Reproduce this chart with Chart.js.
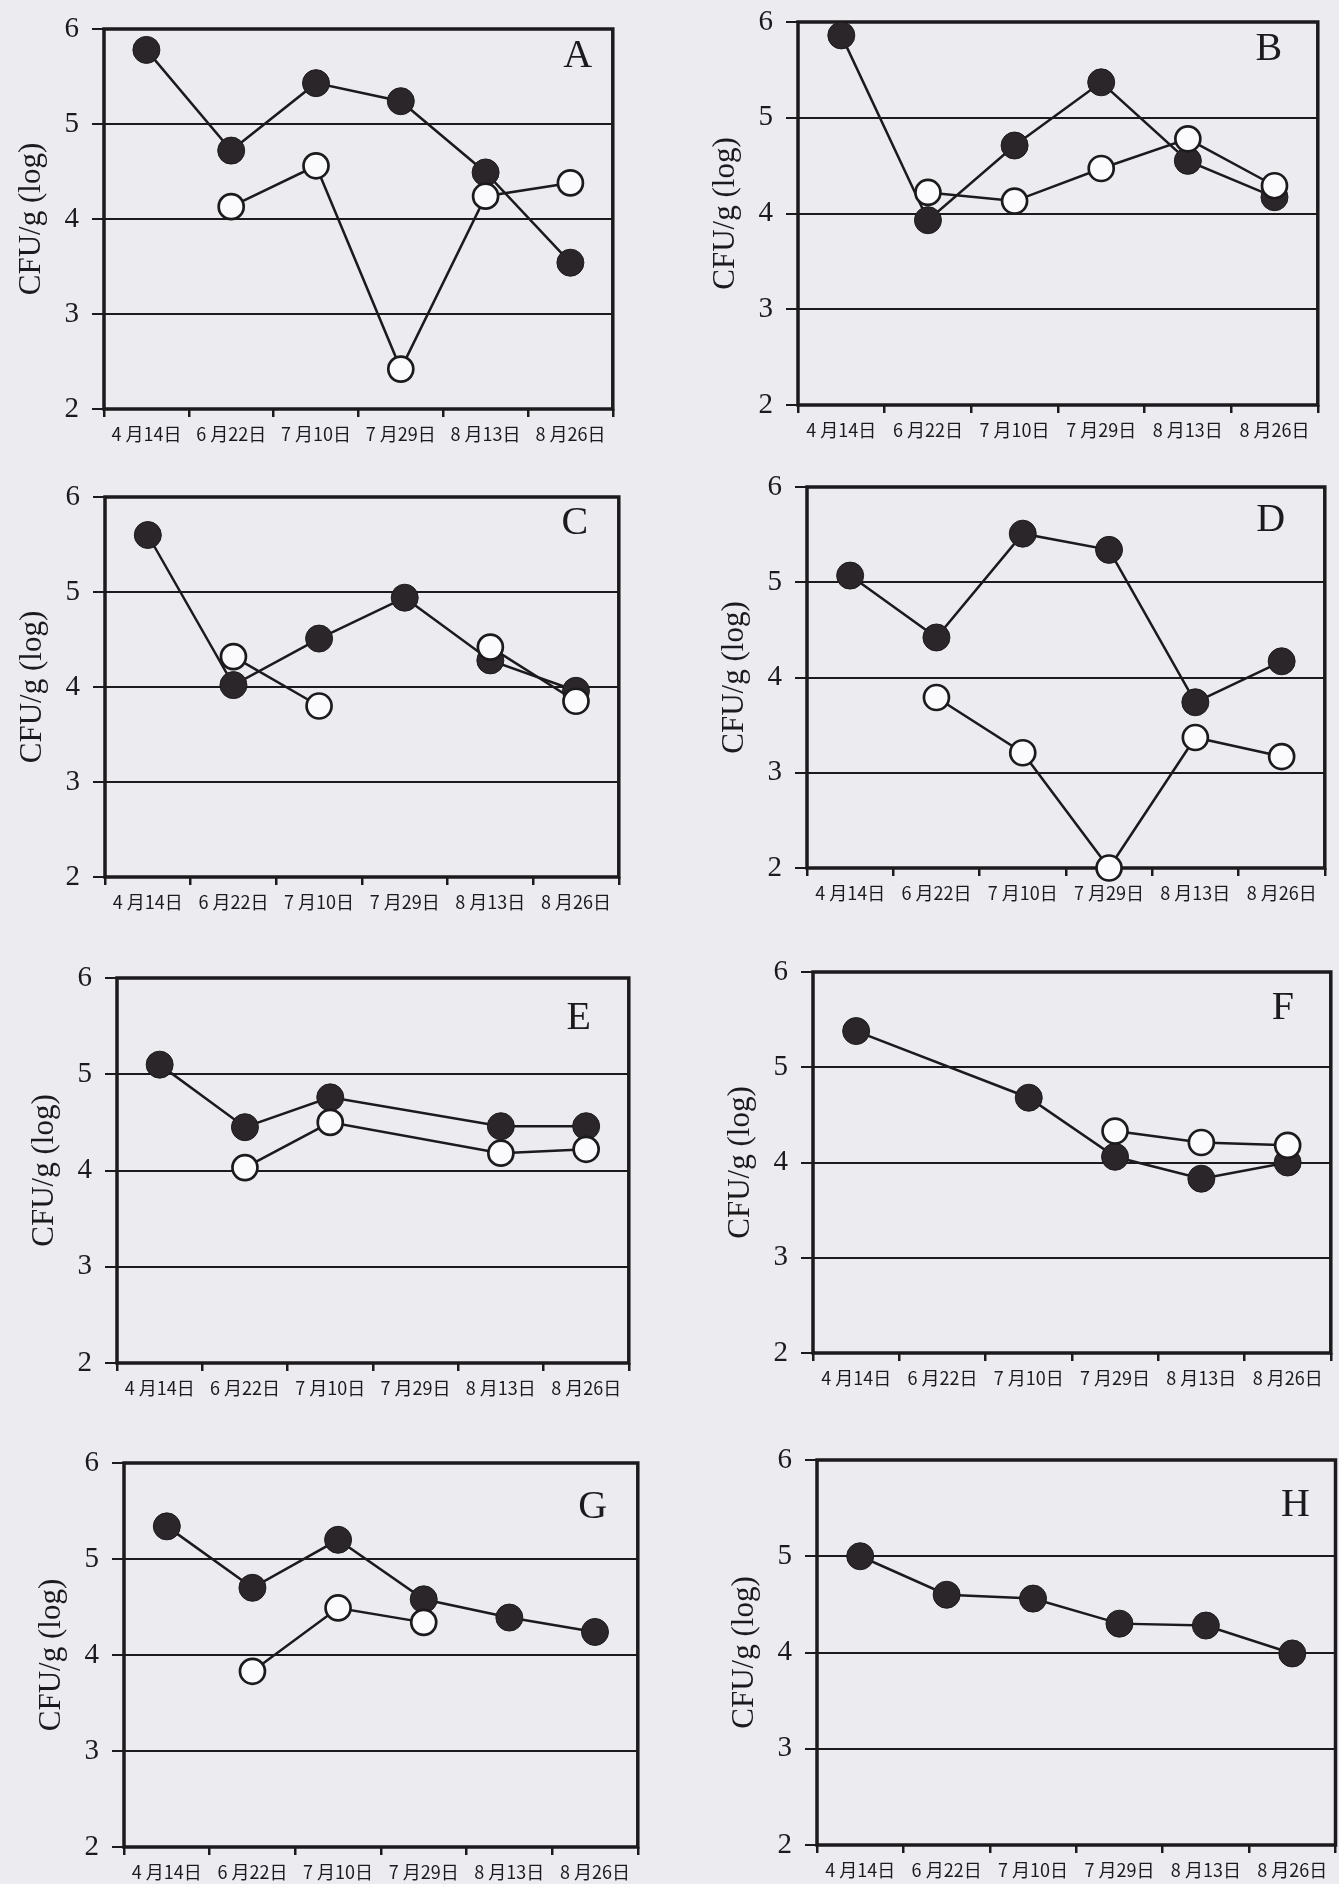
<!DOCTYPE html>
<html lang="ja">
<head>
<meta charset="utf-8">
<title>CFU/g (log)</title>
<script src="https://cdn.jsdelivr.net/npm/chart.js@4.4.1/dist/chart.umd.min.js"></script>
<style>
  html, body { margin: 0; padding: 0; background: #ecebf0; }
  body { width: 1339px; height: 1884px; position: relative; overflow: hidden; }
  .panel { position: absolute; }
</style>
</head>
<body>
<script>
// Sampling dates (x axis)
const dates = ['4 月14日', '6 月22日', '7 月10日', '7 月29日', '8 月13日', '8 月26日'];
const yTicks = [2, 3, 4, 5, 6];
const panelNames = ['A', 'B', 'C', 'D', 'E', 'F', 'G', 'H'];

// ● series / ○ series, log CFU/g
const filledA = [5.78, 4.72, 5.43, 5.24, 4.49, 3.54];
const openA   = [null, 4.13, 4.56, 2.42, 4.24, 4.38];
const filledB = [5.86, 3.93, 4.71, 5.37, 4.55, 4.17];
const openB   = [null, 4.22, 4.13, 4.47, 4.78, 4.29];
const filledC = [5.60, 4.02, 4.51, 4.94, 4.28, 3.96];
const openC   = [null, 4.32, 3.80, null, 4.42, 3.85];
const filledD = [5.07, 4.42, 5.51, 5.34, 3.74, 4.17];
const openD   = [null, 3.79, 3.21, 2.00, 3.37, 3.17];
const filledE = [5.10, 4.45, 4.76, null, 4.46, 4.46];
const openE   = [null, 4.03, 4.50, null, 4.18, 4.22];
const filledF = [5.38, null, 4.68, 4.06, 3.83, 4.00];
const openF   = [null, null, null, 4.33, 4.21, 4.18];
const filledG = [5.34, 4.70, 5.20, 4.58, 4.39, 4.24];
const openG   = [null, 3.83, 4.49, 4.34, null, null];
const filledH = [5.00, 4.60, 4.56, 4.30, 4.28, 3.99];
const openH   = [null, null, null, null, null, null];

const filledSeries = [filledA, filledB, filledC, filledD, filledE, filledF, filledG, filledH];
const openSeries = [openA, openB, openC, openD, openE, openF, openG, openH];
// panels where the line runs over a missing date
const spanPanels = ['E', 'F'];

// plot area boxes on the page: left, top, right, bottom
const boxes = [
  [104, 29, 614, 409], [798, 22, 1319, 405],
  [105, 497, 620, 877], [807, 487, 1326, 868],
  [117, 978, 630, 1363], [813, 972, 1332, 1353],
  [124, 1463, 639, 1847], [817, 1460, 1336, 1845]
];
// letter offset from the top-right corner of the plot
const letterPos = [[35, 27], [49, 27], [44, 26], [54, 33], [50, 40], [48, 36], [45, 44], [40, 45]];

const ink = '#1c1a1c';
// top padding must exceed half a y label plus its padding
const AXIS_W = 100, PAD_TOP = 34, PAD_RIGHT = 14, AXIS_H = 48;

const framePlugin = {
  id: 'frame',
  beforeDatasetsDraw(chart, args, opts) {
    const { ctx, chartArea: a } = chart;
    ctx.save();
    ctx.strokeStyle = ink;
    ctx.lineWidth = 3.5;
    ctx.strokeRect(a.left, a.top, a.right - a.left, a.bottom - a.top);
    ctx.fillStyle = ink;
    ctx.font = '40px "Liberation Serif"';
    ctx.textAlign = 'center';
    ctx.textBaseline = 'middle';
    ctx.fillText(opts.letter, a.right - opts.dx, a.top + opts.dy);
    ctx.restore();
  }
};

panelNames.forEach((name, i) => {
  const [L, T, R, B] = boxes[i];
  const w = (R - L) + AXIS_W + PAD_RIGHT;
  const h = (B - T) + PAD_TOP + AXIS_H;
  const div = document.createElement('div');
  div.className = 'panel';
  div.style.left = (L - AXIS_W) + 'px';
  div.style.top = (T - PAD_TOP) + 'px';
  const canvas = document.createElement('canvas');
  canvas.width = w;
  canvas.height = h;
  div.appendChild(canvas);
  document.body.appendChild(div);

  const span = spanPanels.includes(name);
  const datasets = [];
  if (openSeries[i].some(v => v !== null)) {
    datasets.push({
      label: '○',
      data: openSeries[i],
      borderColor: ink,
      borderWidth: 2.5,
      pointRadius: 12.5,
      pointBackgroundColor: '#fbfbfd',
      pointBorderColor: ink,
      pointBorderWidth: 2.7,
      spanGaps: span,
      clip: false
    });
  }
  datasets.push({
    label: '●',
    data: filledSeries[i],
    borderColor: ink,
    borderWidth: 2.5,
    pointRadius: 13.5,
    pointBackgroundColor: '#2b2629',
    pointBorderColor: ink,
    pointBorderWidth: 1,
    spanGaps: span,
    clip: false
  });

  new Chart(canvas, {
    type: 'line',
    data: { labels: dates, datasets },
    options: {
      responsive: false,
      animation: false,
      layout: { padding: { top: PAD_TOP, right: PAD_RIGHT, left: 0, bottom: 0 } },
      plugins: {
        legend: { display: false },
        tooltip: { enabled: false },
        frame: { letter: name, dx: letterPos[i][0], dy: letterPos[i][1] }
      },
      scales: {
        x: {
          offset: true,
          grid: { offset: true, drawOnChartArea: false, tickLength: 8, color: ink, lineWidth: 2.5 },
          border: { display: false },
          ticks: { font: { family: '"Noto Sans CJK JP"', size: 18 }, color: ink, padding: 6, maxRotation: 0, autoSkip: false },
          afterFit: s => { s.height = AXIS_H; }
        },
        y: {
          min: yTicks[0],
          max: yTicks[yTicks.length - 1],
          afterBuildTicks: s => { s.ticks = yTicks.map(v => ({ value: v })); },
          ticks: { font: { family: '"Liberation Serif"', size: 29 }, color: ink, padding: 13 },
          grid: { color: ink, lineWidth: 2, tickLength: 12 },
          border: { display: false },
          title: {
            display: true,
            text: 'CFU/g (log)',
            font: { family: '"Liberation Serif"', size: 31 },
            color: ink,
            padding: { top: 9, bottom: 0 }
          },
          afterFit: s => { s.width = AXIS_W; }
        }
      }
    },
    plugins: [framePlugin]
  });
});
</script>
</body>
</html>
